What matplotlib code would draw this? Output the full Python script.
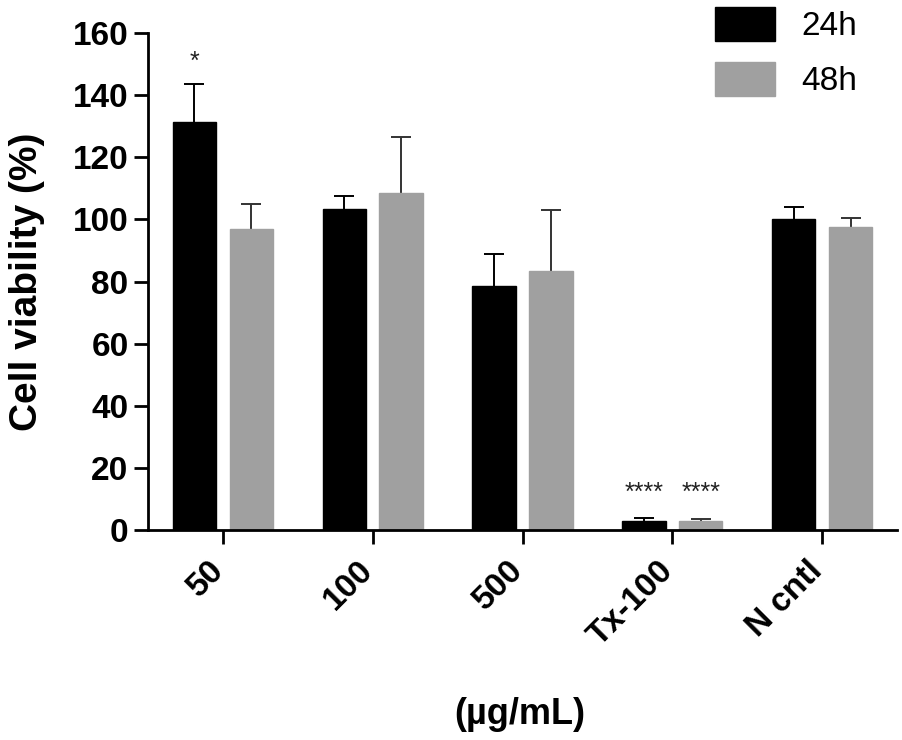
import matplotlib
matplotlib.use("Agg")
import matplotlib.pyplot as plt
import matplotlib.transforms as mtransforms
import numpy as np
from matplotlib.patches import Patch

plt.rcParams['font.family'] = ['Liberation Sans', 'DejaVu Sans']

# data
groups = ['50', '100', '500', 'Tx-100', 'N cntl']
viab_24h = [131.5, 103.5, 78.5, 3.0, 100.0]
err_24h = [12.0, 4.0, 10.5, 1.0, 4.0]
viab_48h = [97.0, 108.5, 83.5, 3.0, 97.5]
err_48h = [8.0, 18.0, 19.5, 0.5, 3.0]
stars_24h = ['*', '', '', '****', '']
stars_48h = ['', '', '', '****', '']

black = 'black'
grey = '#a0a0a0'
width = 0.29
offset = 0.19
fs = 24

fig = plt.figure(figsize=(9.02, 7.4), dpi=100)
ax = fig.add_axes([148 / 902, 1 - 530 / 740, 749 / 902, 497 / 740])

x = np.arange(len(groups))
ax.errorbar(x - offset, viab_24h, yerr=err_24h, fmt='none', ecolor='black',
            elinewidth=1.4, capsize=7, capthick=1.4, zorder=1)
ax.errorbar(x + offset, viab_48h, yerr=err_48h, fmt='none', ecolor='#333333',
            elinewidth=1.4, capsize=7, capthick=1.4, zorder=1)
ax.bar(x - offset, viab_24h, width, color=black, edgecolor=black, zorder=2)
ax.bar(x + offset, viab_48h, width, color=grey, edgecolor=grey, zorder=2)

for i in range(len(groups)):
    if stars_24h[i]:
        y = 147 if stars_24h[i] == '*' else 8
        ax.text(x[i] - offset, y, stars_24h[i], ha='center', va='bottom',
                fontsize=18, color='#222222')
    if stars_48h[i]:
        ax.text(x[i] + offset, 8, stars_48h[i], ha='center', va='bottom',
                fontsize=18, color='#222222')

ax.set_xlim(-0.5, 4.5)
ax.set_ylim(0, 160)
ax.set_yticks(range(0, 161, 20))
ax.set_xticks(x)
ax.set_xticklabels([])
# rotated group labels, placed so their upper right end sits under the tick
lab_tf = ax.get_xaxis_transform() + mtransforms.ScaledTranslation(
    -15 / 100, -25 / 100, fig.dpi_scale_trans)
for xi, name in zip(x, groups):
    ax.text(xi, 0, name, transform=lab_tf, rotation=45, ha='right', va='top',
            rotation_mode='anchor', fontsize=fs, fontweight='bold')
for lab in ax.get_yticklabels():
    lab.set_fontweight('bold')
    lab.set_fontsize(fs)

for side in ['top', 'right']:
    ax.spines[side].set_visible(False)
for side in ['left', 'bottom']:
    ax.spines[side].set_linewidth(2.0)
ax.tick_params(axis='both', direction='out', length=10, width=2.0, pad=4)

ax.set_ylabel('Cell viability (%)', fontsize=28, fontweight='bold')
ax.yaxis.set_label_coords((45 - 148) / 749, 0.5)
fig.text(520 / 902, 1 - 714 / 740, '(µg/mL)', ha='center', va='center',
         fontsize=26, fontweight='bold')

handles = [Patch(facecolor=black, edgecolor=black, label='24h'),
           Patch(facecolor=grey, edgecolor=grey, label='48h')]
fig.legend(handles=handles, loc='upper right', bbox_to_anchor=(864 / 902, 1.0),
           frameon=False, fontsize=fs, handlelength=1.8, handleheight=1.2,
           labelspacing=0.6, handletextpad=0.8, borderaxespad=0.0,
           borderpad=0.2)

fig.savefig('out.png', dpi=100)
